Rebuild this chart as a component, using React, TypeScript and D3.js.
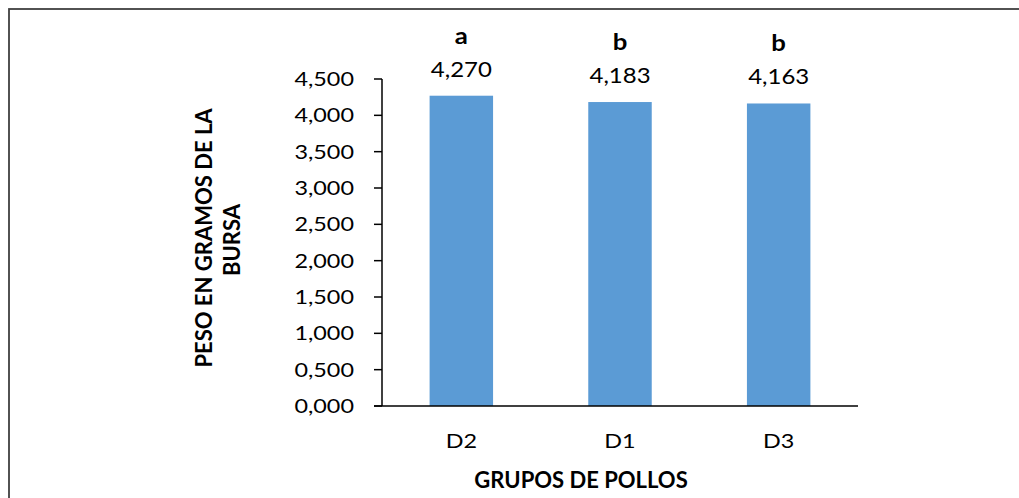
import React from 'react';
import * as d3 from 'd3';

const width = 1019;
const height = 498;
const margin = { top: 79, right: 161, bottom: 92, left: 382 };

const categories = ['D2', 'D1', 'D3'];
const values = [4.27, 4.183, 4.163];
const letters = ['a', 'b', 'b'];
const yTicks = [0, 0.5, 1, 1.5, 2, 2.5, 3, 3.5, 4, 4.5];

const barColor = '#5B9BD5';
const font = 'Lato, "Open Sans", sans-serif';
const sx = 1.17; // stretch horizontal text a bit, like the original

const fmt = (v: number) => d3.format('.3f')(v).replace('.', ',');

export default function App() {
  const x = d3.scaleBand()
    .domain(categories)
    .range([margin.left, width - margin.right])
    .paddingInner(0.6)
    .paddingOuter(0.3);
  const y = d3.scaleLinear()
    .domain([0, 4.5])
    .range([height - margin.bottom, margin.top]);

  const txt = (tx: number, ty: number, s = sx) => `translate(${tx},${ty}) scale(${s},1)`;

  return (
    <svg width={width} height={height}
      style={{ position: 'absolute', left: 0, top: 0, background: '#fff' }}
      fontFamily={font}>
      {/* frame */}
      <rect x={9} y={9} width={width} height={height} fill="none" stroke="#404040" strokeWidth={1.8} />

      {/* bars */}
      {categories.map((c, i) => (
        <g key={c}>
          <rect x={x(c)} y={y(values[i])} width={x.bandwidth()} height={y(0) - y(values[i])} fill={barColor} />
          <text transform={txt(x(c)! + x.bandwidth() / 2, y(values[i]) - 19)} textAnchor="middle" fontSize={20.5}>
            {fmt(values[i])}
          </text>
          <text transform={txt(x(c)! + x.bandwidth() / 2, y(values[i]) - 52)} textAnchor="middle" fontSize={22} fontWeight="bold">
            {letters[i]}
          </text>
          <text transform={txt(x(c)! + x.bandwidth() / 2, 448)} textAnchor="middle" fontSize={20}>
            {c}
          </text>
        </g>
      ))}

      {/* y axis */}
      <line x1={margin.left} x2={margin.left} y1={y(4.5)} y2={y(0)} stroke="#000" strokeWidth={1.5} />
      {yTicks.map(t => (
        <g key={t}>
          <line x1={margin.left - 8} x2={margin.left} y1={y(t)} y2={y(t)} stroke="#000" strokeWidth={1.5} />
          <text transform={txt(354, y(t) + 7)} textAnchor="end" fontSize={20}>{fmt(t)}</text>
        </g>
      ))}
      {/* x axis */}
      <line x1={margin.left - 8} x2={width - margin.right} y1={y(0)} y2={y(0)} stroke="#000" strokeWidth={1.5} />

      {/* axis titles */}
      <text transform={txt(581, 488, 1)} textAnchor="middle" fontSize={22} fontWeight="bold">GRUPOS DE POLLOS</text>
      <text transform="translate(212,238) rotate(-90)" textAnchor="middle" fontSize={22} fontWeight="bold">
        PESO EN GRAMOS DE LA
      </text>
      <text transform="translate(240,240) rotate(-90)" textAnchor="middle" fontSize={22} fontWeight="bold">
        BURSA
      </text>
    </svg>
  );
}
